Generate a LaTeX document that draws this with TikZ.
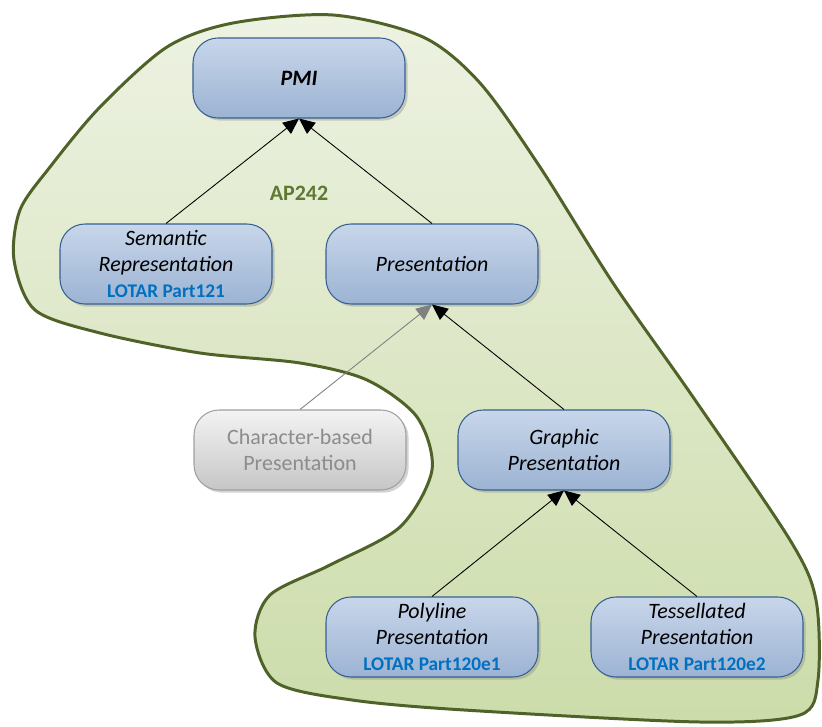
\documentclass[tikz,border=0pt]{standalone}
\usepackage{fontspec}
\setmainfont{Carlito}
\usetikzlibrary{arrows.meta,shadows}

\definecolor{blobline}{RGB}{79,98,40}
\definecolor{blobtop}{RGB}{237,242,226}
\definecolor{blobbot}{RGB}{204,220,170}
\definecolor{boxtop}{RGB}{200,214,234}
\definecolor{boxbot}{RGB}{156,179,211}
\definecolor{boxline}{RGB}{54,96,146}
\definecolor{lotarblue}{RGB}{0,112,192}
\definecolor{greytop}{RGB}{243,243,243}
\definecolor{greybot}{RGB}{198,198,198}
\definecolor{greyline}{RGB}{160,160,160}
\definecolor{greytext}{RGB}{140,140,140}
\definecolor{aplabel}{RGB}{95,120,50}

\tikzset{
	pmibox/.style={rectangle, rounded corners=0.5cm, draw=boxline, line width=0.6pt, top color=boxtop, bottom color=boxbot, minimum width=4.24cm, minimum height=1.6cm, inner sep=1pt, align=center, font=\fontsize{12.5}{15}\selectfont\itshape, drop shadow={opacity=0.35, shadow xshift=1.5pt, shadow yshift=-1.5pt}},
	greybox/.style={pmibox, draw=greyline, top color=greytop, bottom color=greybot, text=greytext, font=\fontsize{12.5}{15}\selectfont\upshape},
	isa/.style={-{Triangle[length=9pt,width=8pt]}, line width=0.5pt, color=black},
	isagrey/.style={isa, color=gray},
}
\newcommand{\lotar}[1]{\\[0pt]{\fontsize{11}{12}\selectfont\upshape\bfseries\color{lotarblue}#1}}

\begin{document}
\begin{tikzpicture}[x=0.02cm, y=-0.02cm]
	\useasboundingbox (0,0) rectangle (822,727);

	% AP242 region
	\draw[blobline, line width=1.7pt, top color=blobtop, bottom color=blobbot] plot[smooth cycle, tension=0.5] coordinates {
		(333,15) (423,37) (480,83) (540,167) (613,283) (693,397) (790,540) (816,600) (818,680) (800,715) (700,722) (464,710) (352,700) (277,683) (255,637) (270,595) (330,565) (400,527) (432,470) (417,417) (367,380) (300,363) (200,353) (100,333) (35,310) (14,260) (20,210) (50,167) (100,107) (167,47) (233,23)};
	\node[font=\fontsize{12.5}{15}\selectfont\bfseries, text=aplabel](ap) at (299,193){AP242};

	\node[pmibox](pmi) at (299,78){\textbf{PMI}};
	\node[pmibox](semantic) at (166,264){Semantic\\Representation\lotar{LOTAR Part121}};
	\node[pmibox](presentation) at (432,264){Presentation};
	\node[greybox](charbased) at (300,450){Character-based\\Presentation};
	\node[pmibox](graphic) at (564,450){Graphic\\Presentation};
	\node[pmibox](polyline) at (432,637){Polyline\\Presentation\lotar{LOTAR Part120e1}};
	\node[pmibox](tessellated) at (697,637){Tessellated\\Presentation\lotar{LOTAR Part120e2}};

	\draw[isa] (semantic.north) -- (pmi.south);
	\draw[isa] (presentation.north) -- (pmi.south);
	\draw[isagrey] (charbased.north) -- (presentation.south);
	\draw[isa] (graphic.north) -- (presentation.south);
	\draw[isa] (polyline.north) -- (graphic.south);
	\draw[isa] (tessellated.north) -- (graphic.south);
\end{tikzpicture}
\end{document}
